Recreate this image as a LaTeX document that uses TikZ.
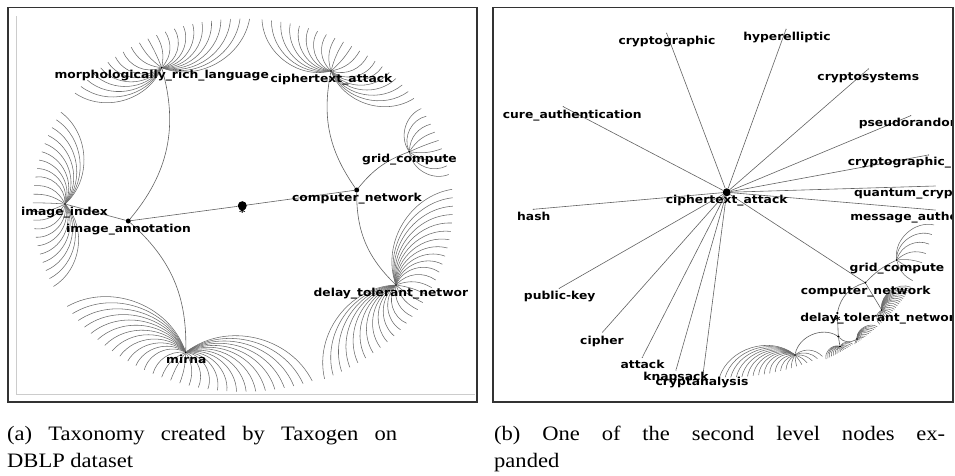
\documentclass[tikz,border=0pt]{standalone}
\usepackage{fontspec}
\newfontfamily\lblfont{DejaVu Sans}[FakeStretch=1.12]
\newfontfamily\capfont{Liberation Serif}[FakeStretch=1.1]
\usetikzlibrary{calc}

\tikzset{
  link/.style={draw=black!62, line width=0.6pt},
  leaf/.style={draw=black!58, line width=0.55pt},
  lbl/.style={font=\lblfont\bfseries\fontsize{11}{11}\selectfont, inner sep=0pt, anchor=base, text=black},
  bigdot/.style={circle, fill=black, inner sep=0pt, minimum size=9pt},
  middot/.style={circle, fill=black, inner sep=0pt, minimum size=5pt},
  hubdot/.style={circle, fill=black, inner sep=0pt, minimum size=2.4pt},
  tipdot/.style={circle, fill=black!60, inner sep=0pt, minimum size=1.4pt},
  frame/.style={draw=black!80, line width=1.2pt},
  captext/.style={font=\capfont\fontsize{20.5}{24}\selectfont, inner sep=0pt, anchor=base west},
}

% slope of the bend (degrees of bend per degree of angular offset)
\newcommand\fanslope{6}
% a fan of leaf arcs: hub, centre x, centre y, radius, hub angle, first angle, last angle, count, max bend
\newcommand\leaffan[9]{%
  \foreach \k in {1,...,#8}{%
    \pgfmathsetmacro\th{#6+((#7)-(#6))*(\k-1)/(#8-1)}%
    \pgfmathsetmacro\bb{max(-#9,min(#9,\fanslope*(\th-(#5))))}%
    \coordinate (#1-\k) at ({#2+1.12*#4*cos(\th)},{#3+#4*sin(\th)});%
    \draw[leaf] (#1) to[bend right=\bb] (#1-\k);%
  }%
}

\begin{document}
\begin{tikzpicture}[x=1pt,y=-1pt]
\useasboundingbox (0,0) rectangle (955,475);

% ---------------- left tree ----------------
\begin{scope}
\clip (16,8) rectangle (467,402);
\node[bigdot] (root) at (242.3,205.7) {};
\node[middot] (cn) at (356.7,190) {};
\node[middot] (ia) at (128.3,221) {};
\node[hubdot] (morph) at (161.7,67.7) {};
\node[hubdot] (ciph) at (331,71) {};
\node[hubdot] (grid) at (409.3,151.7) {};
\node[hubdot] (delay) at (396,285) {};
\node[hubdot] (mirna) at (185.7,352.3) {};
\node[hubdot] (iidx) at (65,204) {};

\draw[link] (root) -- (cn);
\draw[link] (root) -- (ia);
\draw[link] (ia) -- (iidx);
\draw[link] (ia) to[bend right=28] (morph);
\draw[link] (ia) to[bend left=25] (mirna);
\draw[link] (cn) to[bend left=23] (ciph);
\draw[link] (cn) to[bend left=15] (grid);
\draw[link] (cn) to[bend right=23] (delay);

\leaffan{morph}{242.3}{205.7}{187}{-117.5}{-143}{-88}{22}{50}
\leaffan{ciph}{242.3}{205.7}{187}{-59.8}{-84.6}{-35}{20}{50}
\leaffan{grid}{242.3}{205.7}{187}{-20}{-31.3}{-9.6}{9}{50}
\leaffan{delay}{242.3}{205.7}{188}{30}{-5}{67}{29}{50}
\leaffan{mirna}{242.3}{205.7}{186}{109}{70.4}{147.2}{30}{50}
\leaffan{iidx}{242.3}{205.7}{187}{180.6}{154.4}{210}{22}{50}

\node[lbl] (root-t) at (242.3,216.7) {*};
\node[lbl] (cn-t) at (357,201) {computer\_network};
\node[lbl] (ia-t) at (128.5,232) {image\_annotation};
\node[lbl] (morph-t) at (161.7,78.5) {morphologically\_rich\_language};
\node[lbl] (ciph-t) at (331.5,82) {ciphertext\_attack};
\node[lbl] (grid-t) at (409.5,162.5) {grid\_compute};
\node[lbl] (delay-t) at (395,296) {delay\_tolerant\_network};
\node[lbl] (mirna-t) at (186.3,363.3) {mirna};
\node[lbl] (iidx-t) at (64.5,215) {image\_index};
\end{scope}

% ---------------- right tree ----------------
\begin{scope}
\clip (502,8) rectangle (951,402);
\node[bigdot, minimum size=8pt] (cB) at (726.7,192.3) {};
\node[tipdot] (sec) at (563.3,106.7) {};
\node[tipdot] (cgr) at (666.7,33.3) {};
\node[tipdot] (hyp) at (786,29.3) {};
\node[tipdot] (csy) at (868.3,69) {};
\node[tipdot] (prn) at (910.7,115.7) {};
\node[tipdot] (cpr) at (928.3,155) {};
\node[tipdot] (qcr) at (935,186) {};
\node[tipdot] (mau) at (935,210) {};
\node[tipdot] (hsh) at (533.3,209.3) {};
\node[tipdot] (pbk) at (559.3,288.3) {};
\node[tipdot] (cph) at (602.7,332) {};
\node[tipdot] (atk) at (642.3,357.3) {};
\node[tipdot] (knp) at (676,370) {};
\node[tipdot] (can) at (702.7,376.7) {};

\foreach \c in {sec,cgr,hyp,csy,prn,cpr,qcr,mau,hsh,pbk,cph,atk,knp,can}
  \draw[link] (cB) -- (\c);

\node[hubdot] (cnB) at (865.3,282.7) {};
\node[hubdot] (gridB) at (896.7,260) {};
\node[hubdot] (delayB) at (881.7,310) {};
\node[hubdot] (rootB) at (837.3,313) {};
\node[hubdot] (iaB) at (838.3,336.5) {};
\node[hubdot] (fa) at (857,339) {};
\node[hubdot] (fb) at (840,346.5) {};
\node[hubdot] (fc) at (795,355) {};

\draw[link] (cB) -- (cnB);
\draw[link] (rootB) to[bend left=30] (cnB);
\draw[link] (cnB) to[bend left=10] (gridB);
\draw[link] (cnB) -- (delayB);
\draw[link] (rootB) -- (iaB);
\draw[link] (iaB) to[bend right=40] (fa);
\draw[link] (iaB) -- (fb);
\draw[link] (iaB) to[bend right=55] (fc);

\leaffan{gridB}{726.7}{192.3}{188}{24}{10}{28}{7}{55}
\renewcommand\fanslope{15}
\leaffan{delayB}{726.7}{192.3}{190}{40.3}{30}{44}{22}{60}
\leaffan{fa}{726.7}{192.3}{190}{51.6}{45}{53}{14}{60}
\leaffan{fb}{726.7}{192.3}{189}{56.7}{53.5}{62}{16}{60}
\renewcommand\fanslope{6}
\leaffan{fc}{726.7}{192.3}{185}{69.4}{62.5}{92}{20}{55}

\node[lbl] (cB-t) at (726.7,203.3) {ciphertext\_attack};
\node[lbl, anchor=base west] (sec-t) at (502.7,118) {cure\_authentication};
\node[lbl] (cgr-t) at (667,44.3) {cryptographic};
\node[lbl] (hyp-t) at (787,40.3) {hyperelliptic};
\node[lbl] (csy-t) at (868.3,80) {cryptosystems};
\node[lbl] (prn-t) at (910.7,126.7) {pseudorandom};
\node[lbl] (cpr-t) at (928.3,165.7) {cryptographic\_protocol};
\node[lbl] (qcr-t) at (935,196.7) {quantum\_cryptography};
\node[lbl] (mau-t) at (935,220.7) {message\_authentication};
\node[lbl] (hsh-t) at (533.8,220) {hash};
\node[lbl] (pbk-t) at (559.7,299) {public-key};
\node[lbl] (cph-t) at (602,344) {cipher};
\node[lbl] (atk-t) at (642.5,368.5) {attack};
\node[lbl] (knp-t) at (676,380) {knapsack};
\node[lbl] (can-t) at (702,385.5) {cryptanalysis};
\node[lbl] (cnB-t) at (865.7,294) {computer\_network};
\node[lbl] (gridB-t) at (897,271.7) {grid\_compute};
\node[lbl] (delayB-t) at (881.7,321.7) {delay\_tolerant\_network};
\node[lbl] (rootB-t) at (837.3,324) {*};
\end{scope}

% ---------------- frames ----------------
\draw[black!20, line width=0.6pt] (16,16) -- (16,394) -- (475,394);
\draw[frame] (8,7.5) rectangle (477,402);
\draw[frame] (493,7.5) rectangle (953,402);

% ---------------- captions ----------------
\node[captext] (capa1) at (7,440) {\makebox[390pt][s]{(a) Taxonomy created by Taxogen on}};
\node[captext] (capa2) at (7,467.7) {DBLP dataset};
\node[captext] (capb1) at (494,440) {\makebox[451pt][s]{(b) One of the second level nodes ex-}};
\node[captext] (capb2) at (494,467.7) {panded};
\end{tikzpicture}
\end{document}
